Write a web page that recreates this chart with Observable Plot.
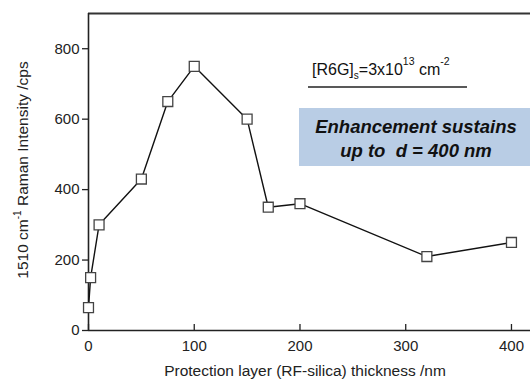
<!DOCTYPE html>
<html><head><meta charset="utf-8">
<script src="https://cdn.jsdelivr.net/npm/d3@7"></script>
<script src="https://cdn.jsdelivr.net/npm/@observablehq/plot@0.6"></script>
<style>
html,body{margin:0;padding:0;background:#fff;}
#chart{position:relative;width:530px;height:380px;}
</style>
</head><body>
<div id="chart"></div>
<script>
const thickness = [0, 2, 10, 50, 75, 100, 150, 170, 200, 320, 400];
const intensity = [65, 150, 300, 430, 650, 750, 600, 350, 360, 210, 250];
const xTicks = [0, 100, 200, 300, 400];
const yTicks = [0, 200, 400, 600, 800];
const xDomain = [0, 418];
const yDomain = [0, 900];
const xLabel = "Protection layer (RF-silica) thickness /nm";
const boxLines = ["Enhancement sustains", "up to  d = 400 nm"];

const data = thickness.map((t, i) => ({t, v: intensity[i]}));
const font = "Liberation Sans, Arial, sans-serif";

const plot = Plot.plot({
  width: 530, height: 380,
  marginLeft: 88, marginRight: 0, marginTop: 13, marginBottom: 50,
  style: {fontFamily: font, fontSize: "15px", color: "#222", background: "white"},
  x: {domain: xDomain},
  y: {domain: yDomain},
  marks: [
    Plot.ruleY([yDomain[1]], {stroke: "#333", strokeWidth: 2}),
    Plot.ruleY([0], {stroke: "#222", strokeWidth: 1.6}),
    Plot.ruleX([0], {stroke: "#222", strokeWidth: 1.6}),
    Plot.tickX(xTicks, {x: d => d, stroke: "#222", strokeWidth: 1.3, insetTop: 311}),
    Plot.axisX(xTicks, {tickSize: 0, tickPadding: 10, label: null, fontSize: 15}),
    Plot.axisY(yTicks, {tickSize: 6, tickPadding: 3, label: null, fontSize: 15, strokeWidth: 1.3}),
    Plot.line(data, {x: "t", y: "v", stroke: "#111", strokeWidth: 1.4}),
    Plot.dot(data, {x: "t", y: "v", symbol: "square", r: 5.6, fill: "white", stroke: "#444", strokeWidth: 1.3})
  ]
});
document.getElementById("chart").appendChild(plot);

const svg = d3.select(plot);

// x label
svg.append("text").attr("x", 305).attr("y", 376).attr("text-anchor", "middle")
  .attr("font-family", font).attr("font-size", 15.5).attr("fill", "#222").text(xLabel);

// y label with superscript
const yl = svg.append("text").attr("transform", "translate(28,170) rotate(-90)")
  .attr("text-anchor", "middle").attr("font-family", font).attr("font-size", 15.5).attr("fill", "#222");
yl.append("tspan").text("1510 cm");
yl.append("tspan").attr("font-size", 10).attr("dy", -7).text("-1");
yl.append("tspan").attr("dy", 7).text(" Raman Intensity /cps");

// concentration annotation
const ann = svg.append("text").attr("x", 312).attr("y", 75).attr("text-anchor", "start")
  .attr("font-family", font).attr("font-size", 16).attr("fill", "#111");
ann.append("tspan").text("[R6G]");
ann.append("tspan").attr("font-size", 10).attr("dy", 4).text("s");
ann.append("tspan").attr("dy", -4).text("=3x10");
ann.append("tspan").attr("font-size", 10.5).attr("dy", -10).text("13");
ann.append("tspan").attr("dy", 10).text(" cm");
ann.append("tspan").attr("font-size", 10.5).attr("dy", -10).text("-2");
svg.append("line").attr("x1", 308).attr("x2", 467).attr("y1", 87).attr("y2", 87)
  .attr("stroke", "#222").attr("stroke-width", 1.5);

// blue box
svg.append("rect").attr("x", 299).attr("y", 108).attr("width", 231).attr("height", 58)
  .attr("fill", "#b9cde5");
boxLines.forEach((s, i) => {
  svg.append("text").attr("x", 416).attr("y", 133 + i * 24).attr("text-anchor", "middle")
    .attr("font-family", font).attr("font-size", 18.5).attr("font-weight", "bold")
    .attr("font-style", "italic").attr("fill", "#111").text(s);
});
</script>
</body></html>
